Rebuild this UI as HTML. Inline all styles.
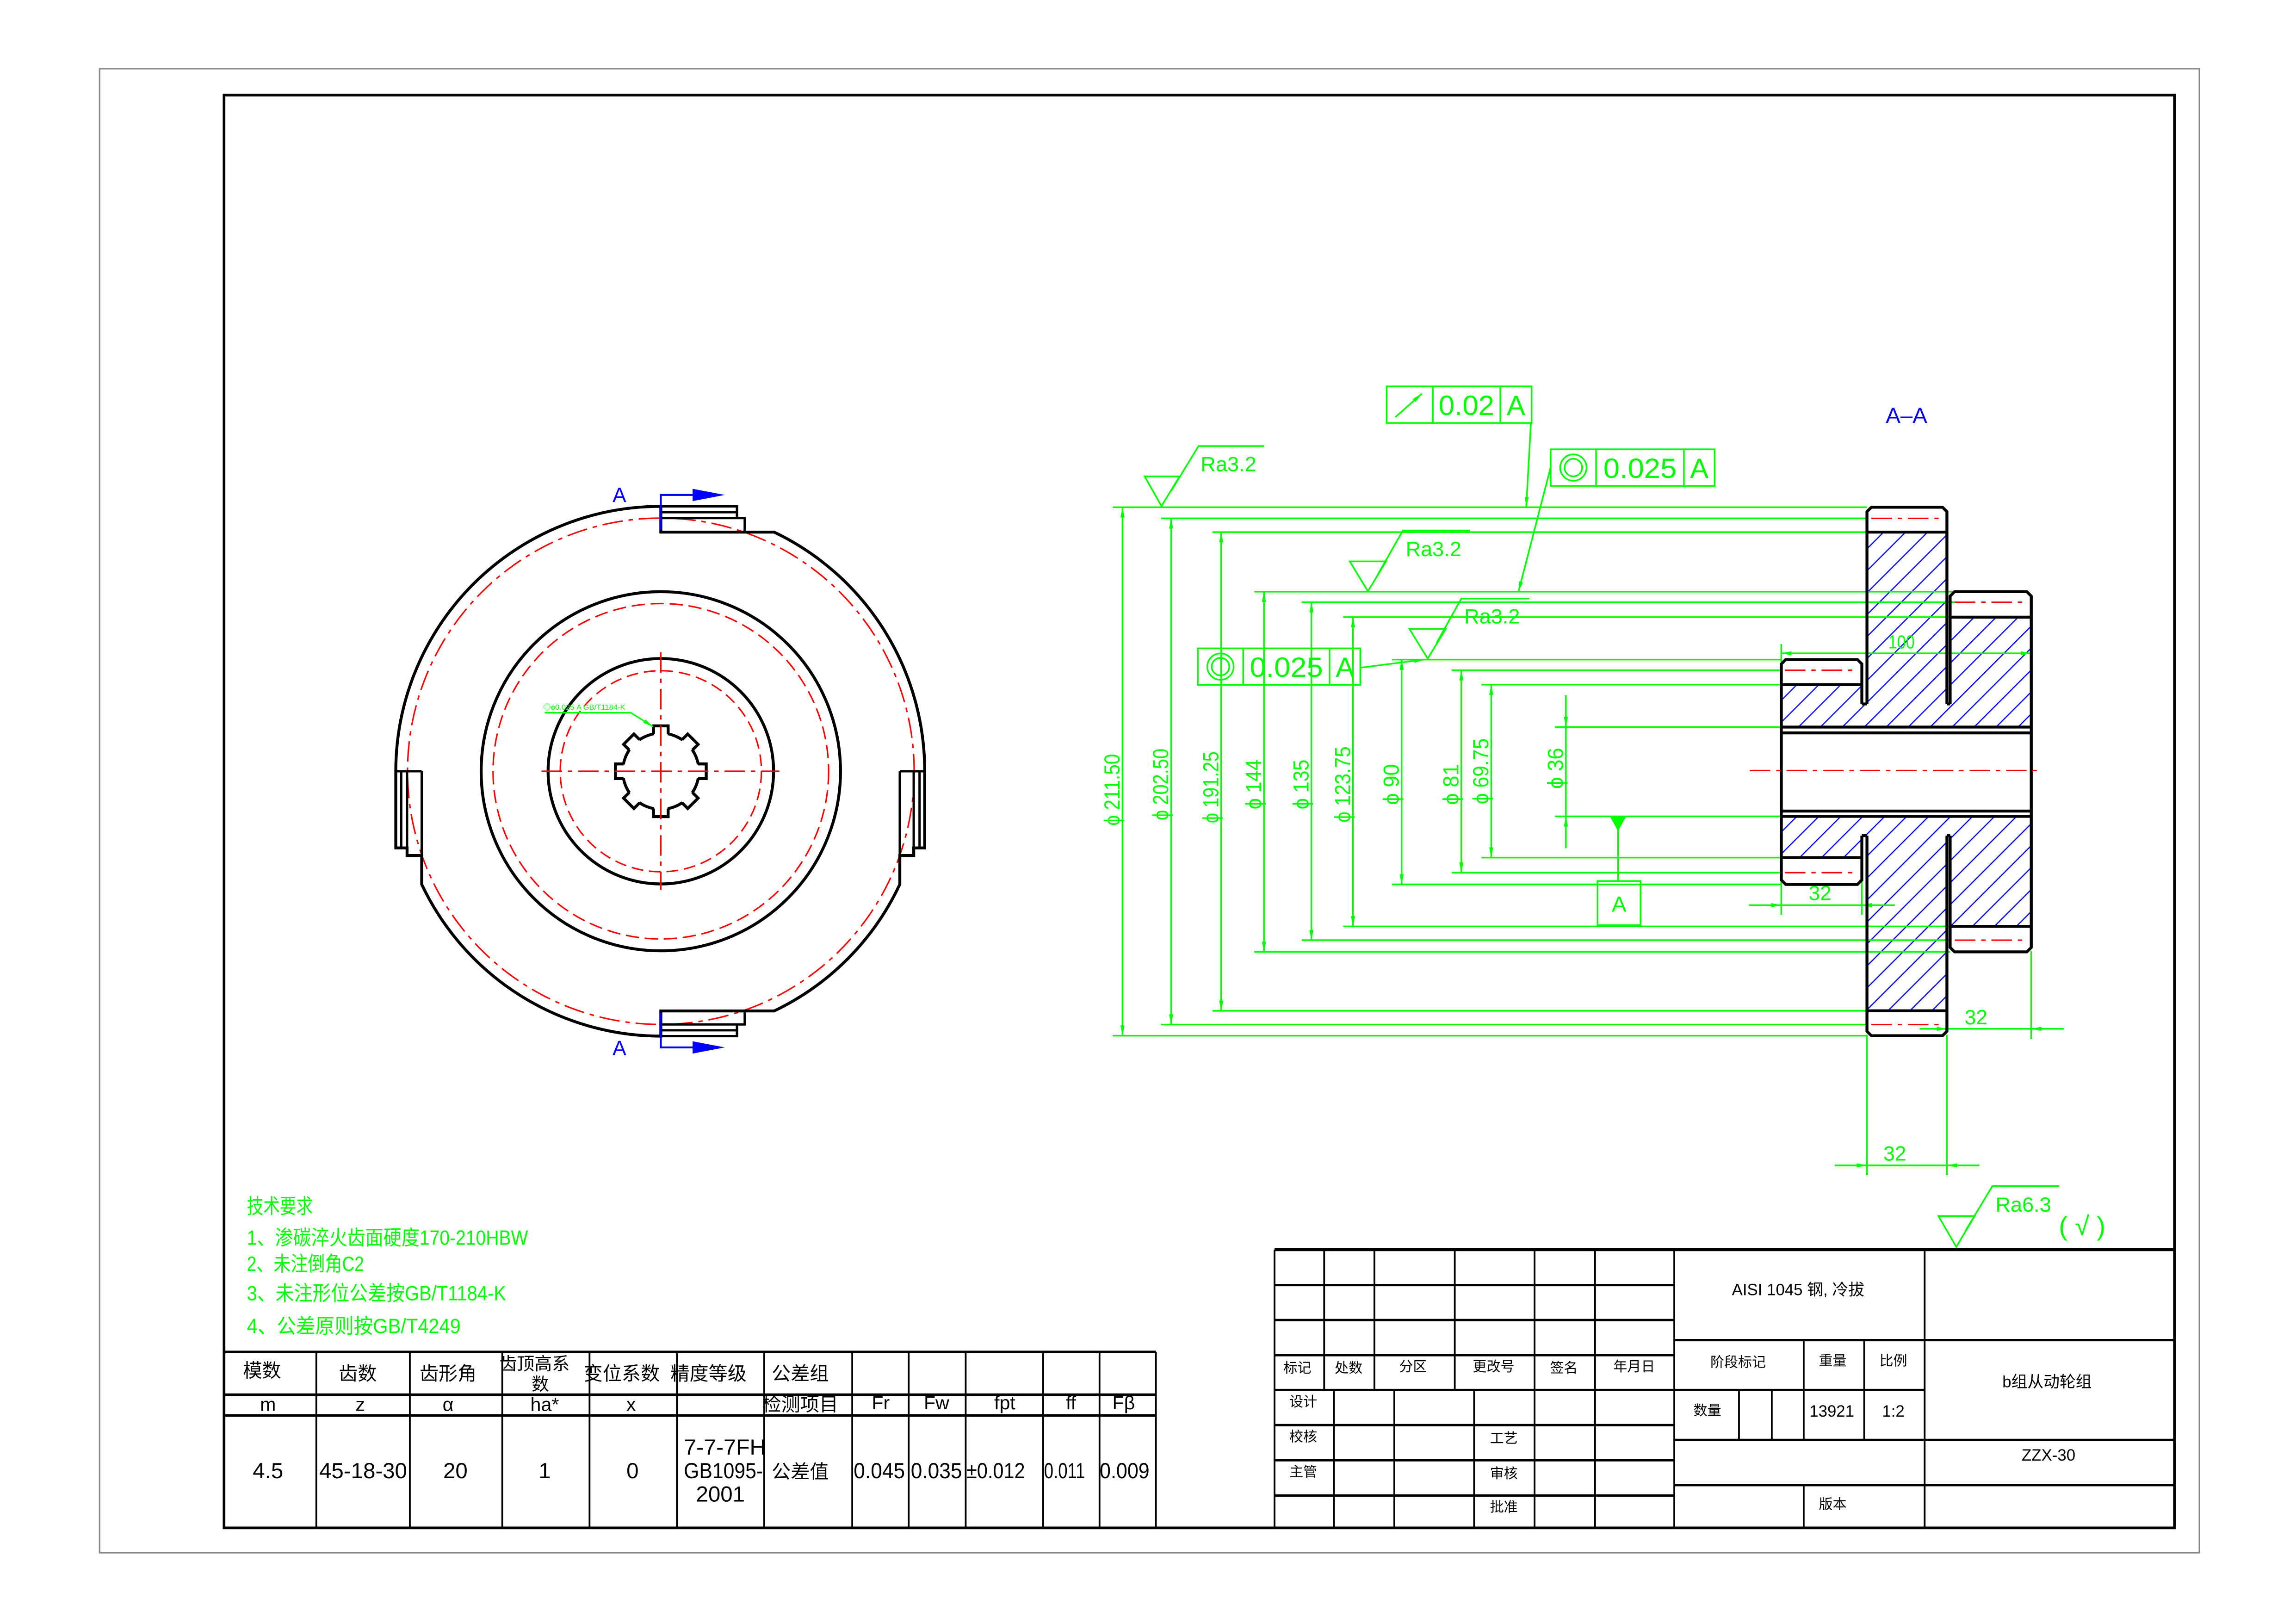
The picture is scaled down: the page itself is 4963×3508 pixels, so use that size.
<!DOCTYPE html>
<html><head><meta charset="utf-8"><style>
html,body{margin:0;padding:0;background:#fff;}
svg{display:block;}
text{font-family:"Liberation Sans","Noto Sans CJK SC",sans-serif;}
</style></head><body>
<svg xmlns="http://www.w3.org/2000/svg" width="4963" height="3508" viewBox="0 0 1568 1109" preserveAspectRatio="none">
<defs>
<marker id="a" viewBox="0 0 10 4" refX="10" refY="2" markerWidth="7" markerHeight="2.8" markerUnits="userSpaceOnUse" orient="auto-start-reverse" preserveAspectRatio="none"><path d="M0,0 L10,2 L0,4z" fill="#0f0"/></marker>
<pattern id="h" patternUnits="userSpaceOnUse" width="15" height="15"><path d="M0,15 L15,0 M-3,3 L3,-3 M12,18 L18,12" stroke="#00f" stroke-width="0.8"/></pattern>
<clipPath id="hc">
<rect x="1216.5" y="467.8" width="55" height="29"/><rect x="1271.5" y="481" width="3.5" height="15.8"/>
<rect x="1275" y="363.6" width="54.6" height="133.2"/><rect x="1329.6" y="481" width="2.2" height="15.8"/>
<rect x="1331.8" y="421.7" width="55.4" height="75.1"/>
<rect x="1216.5" y="557.8" width="55" height="28.2"/><rect x="1271.5" y="557.8" width="3.5" height="13.2"/>
<rect x="1275" y="557.8" width="54.6" height="132.9"/><rect x="1329.6" y="557.8" width="2.2" height="13.2"/>
<rect x="1331.8" y="557.8" width="55.4" height="75.2"/>
</clipPath>
</defs>
<rect width="1568" height="1109" fill="#fff"/>
<rect x="68" y="47" width="1434" height="1014" fill="none" stroke="#888" stroke-width="1"/>
<rect x="153" y="65" width="1332" height="979" fill="none" stroke="#000" stroke-width="1.8"/>

<g fill="none">
<circle cx="451.3" cy="527" r="173" stroke="#f00" stroke-width="1" stroke-dasharray="14 4 3 4"/>
<circle cx="451.3" cy="527" r="122.7" stroke="#000" stroke-width="2"/>
<circle cx="451.3" cy="527" r="114.6" stroke="#f00" stroke-width="1" stroke-dasharray="9 4"/>
<circle cx="451.3" cy="527" r="77" stroke="#000" stroke-width="2"/>
<circle cx="451.3" cy="527" r="68.7" stroke="#f00" stroke-width="1" stroke-dasharray="8 4"/>
<path d="M451.3,346 L451.3,363.6 L528.7,363.6 A181,181 0 0 1 631.5,527 L631.5,579.4 L624,579.4 L624,584.6 L614.5,584.6 L614.5,604.3 A181,181 0 0 1 528.7,690.8 L451.3,690.8 L451.3,708 A181,181 0 0 1 288,604.3 L288,584.6 L278,584.6 L278,579.4 L270.3,579.4 L270.3,527 A181,181 0 0 1 451.3,346 Z" stroke="#000" stroke-width="2"/>
<path d="M451.3,346 L503.3,346 L503.3,354 L451.3,354 M451.3,350 L503.3,350 M503.3,354 L508.6,354 L508.6,363.6" stroke="#000" stroke-width="1.6"/>
<path d="M451.3,708 L503.3,708 L503.3,700 L451.3,700 M451.3,704 L503.3,704 M503.3,700 L508.6,700 L508.6,690.8" stroke="#000" stroke-width="1.6"/>
<path d="M278,527 L278,579.4 M288,527 L288,584.6 M270.3,527 L288,527 M274,527 L274,579.4" stroke="#000" stroke-width="1.6"/>
<path d="M624,527 L624,579.4 M614.5,527 L614.5,584.6 M614.5,527 L631.5,527 M628,527 L628,579.4" stroke="#000" stroke-width="1.6"/>
<circle cx="451.3" cy="527" r="26" stroke="#000" stroke-width="2"/>
</g>
<g transform="translate(451.3,527)" stroke="#000" stroke-width="2">
<g><rect x="-4.6" y="-28" width="9.2" height="4" fill="#fff" stroke="none"/><path d="M-5,-25.5 L-5,-31 L5,-31 L5,-25.5" fill="none"/></g>
<g transform="rotate(45)"><rect x="-4.6" y="-28" width="9.2" height="4" fill="#fff" stroke="none"/><path d="M-5,-25.5 L-5,-31 L5,-31 L5,-25.5" fill="none"/></g>
<g transform="rotate(90)"><rect x="-4.6" y="-28" width="9.2" height="4" fill="#fff" stroke="none"/><path d="M-5,-25.5 L-5,-31 L5,-31 L5,-25.5" fill="none"/></g>
<g transform="rotate(135)"><rect x="-4.6" y="-28" width="9.2" height="4" fill="#fff" stroke="none"/><path d="M-5,-25.5 L-5,-31 L5,-31 L5,-25.5" fill="none"/></g>
<g transform="rotate(180)"><rect x="-4.6" y="-28" width="9.2" height="4" fill="#fff" stroke="none"/><path d="M-5,-25.5 L-5,-31 L5,-31 L5,-25.5" fill="none"/></g>
<g transform="rotate(225)"><rect x="-4.6" y="-28" width="9.2" height="4" fill="#fff" stroke="none"/><path d="M-5,-25.5 L-5,-31 L5,-31 L5,-25.5" fill="none"/></g>
<g transform="rotate(270)"><rect x="-4.6" y="-28" width="9.2" height="4" fill="#fff" stroke="none"/><path d="M-5,-25.5 L-5,-31 L5,-31 L5,-25.5" fill="none"/></g>
<g transform="rotate(315)"><rect x="-4.6" y="-28" width="9.2" height="4" fill="#fff" stroke="none"/><path d="M-5,-25.5 L-5,-31 L5,-31 L5,-25.5" fill="none"/></g>
</g>
<path d="M369.8,527 L532.3,527 M451.3,445.7 L451.3,608" stroke="#f00" stroke-width="1" stroke-dasharray="14 4 3 4" fill="none"/>
<path d="M372,487 L430.8,487 L446,496.5" stroke="#0f0" stroke-width="1" fill="none" marker-end="url(#a)"/>
<text x="371" y="485" font-size="5" fill="#0f0" textLength="56" lengthAdjust="spacingAndGlyphs">◎ϕ0.025 A GB/T1184-K</text>
<g stroke="#00f" stroke-width="1.3" fill="none"><path d="M451.3,361.8 L451.3,338.2 L476,338.2"/><path d="M451.3,692 L451.3,715.7 L476,715.7"/></g>
<path d="M473,334 L495,338.2 L473,342.4z M473,711.5 L495,715.7 L473,719.9z" fill="#00f"/>
<text x="423" y="343" font-size="14" fill="#00f" text-anchor="middle">A</text>
<text x="423" y="721" font-size="14" fill="#00f" text-anchor="middle">A</text>

<text x="1302" y="289" font-size="15" fill="#00f" text-anchor="middle">A–A</text>
<rect x="1200" y="350" width="200" height="360" fill="url(#h)" clip-path="url(#hc)"/>
<g stroke="#0f0" stroke-width="1.1" fill="none">
<path d="M760,346.6H1275 M793,354.2H1275 M828,363.6H1275 M856.6,404.3H1336 M889,411.5H1336 M917.3,421.7H1336 M950.6,450.7H1216.5 M991.4,458H1216.5 M1011.7,467.8H1216.5 M1062,496.8H1216.5 M1062,557.8H1216.5 M1011.7,586H1216.5 M991.4,596.3H1216.5 M950.6,604.3H1216.5 M917.3,633H1331.8 M889,642.4H1331.8 M856.6,650.4H1331.8 M828,690.7H1275 M793,700.1H1275 M760,707.7H1275"/>
<path d="M1216.5,440V625 M1271.5,594V625 M1387.2,650V710 M1275,707V803 M1329.6,707V803"/>
</g>
<g stroke="#0f0" stroke-width="1.1" fill="none" marker-start="url(#a)" marker-end="url(#a)">
<path d="M766.6,346.6V707.7"/><path d="M799.8,354.2V700.1"/><path d="M834,363.6V690.7"/><path d="M863.2,404.3V650.4"/><path d="M895.6,411.5V642.4"/><path d="M924,421.7V633"/><path d="M957.2,450.7V604.3"/><path d="M998,458V596.3"/><path d="M1018.4,467.8V586"/>
<path d="M1216.5,446.4H1387.2"/>
</g>
<g stroke="#0f0" stroke-width="1.1" fill="none" marker-end="url(#a)">
<path d="M1069.4,475V496.8"/><path d="M1069.4,579.6V557.8"/>
<path d="M1194.4,618.5H1216.5"/><path d="M1294,618.5H1271.5"/>
<path d="M1311,703H1329.6"/><path d="M1409.4,703H1387.2"/>
<path d="M1253,796.3H1275"/><path d="M1351.8,796.3H1329.6"/>
<path d="M1045.5,289L1042.3,346.6"/><path d="M1059,319.3L1037,404.3"/><path d="M929.3,456.2L972.7,450.7"/>
</g>
<path d="M1069.4,496.8V557.8 M1216.5,618.5H1271.5 M1329.6,703H1387.2 M1275,796.3H1329.6" stroke="#0f0" stroke-width="1.1"/>
<g fill="#0f0" font-size="15" text-anchor="middle">
<text transform="translate(764.6,539.7) rotate(-90)" textLength="49" lengthAdjust="spacingAndGlyphs">ϕ 211.50</text>
<text transform="translate(797.8,536) rotate(-90)" textLength="49" lengthAdjust="spacingAndGlyphs">ϕ 202.50</text>
<text transform="translate(832,538) rotate(-90)" textLength="49" lengthAdjust="spacingAndGlyphs">ϕ 191.25</text>
<text transform="translate(861.2,536) rotate(-90)" textLength="34" lengthAdjust="spacingAndGlyphs">ϕ 144</text>
<text transform="translate(893.6,536) rotate(-90)" textLength="34" lengthAdjust="spacingAndGlyphs">ϕ 135</text>
<text transform="translate(922,536) rotate(-90)" textLength="52" lengthAdjust="spacingAndGlyphs">ϕ 123.75</text>
<text transform="translate(955.2,536) rotate(-90)" textLength="28" lengthAdjust="spacingAndGlyphs">ϕ 90</text>
<text transform="translate(996,536) rotate(-90)" textLength="28" lengthAdjust="spacingAndGlyphs">ϕ 81</text>
<text transform="translate(1016.4,527) rotate(-90)" textLength="45" lengthAdjust="spacingAndGlyphs">ϕ 69.75</text>
<text transform="translate(1067.4,525) rotate(-90)" textLength="28" lengthAdjust="spacingAndGlyphs">ϕ 36</text>
<text x="1298.6" y="443" font-size="13" textLength="18" lengthAdjust="spacingAndGlyphs">100</text>
<text x="1243" y="615" font-size="14">32</text>
<text x="1349.5" y="700" font-size="14">32</text>
<text x="1294" y="793" font-size="14">32</text>
</g>
<g stroke="#000" stroke-width="2" fill="none">
<path d="M1275,481 V349.6 L1278,346.6 H1326.6 L1329.6,349.6 V481 M1275,571 V704.7 L1278,707.7 H1326.6 L1329.6,704.7 V571"/>
<path d="M1275,363.6H1329.6 M1275,690.7H1329.6"/>
<path d="M1331.8,481 V407.3 L1334.8,404.3 H1384.2 L1387.2,407.3 V647.4 L1384.2,650.4 H1334.8 L1331.8,647.4 V571"/>
<path d="M1331.8,421.7H1387.2 M1331.8,633H1387.2"/>
<path d="M1271.5,481 V453.7 L1268.5,450.7 H1219.5 L1216.5,453.7 V601.3 L1219.5,604.3 H1268.5 L1271.5,601.3 V571"/>
<path d="M1216.5,467.8H1271.5 M1216.5,586H1271.5"/>
<path d="M1271.5,481H1275 M1329.6,481H1331.8 M1271.5,571H1275 M1329.6,571H1331.8"/>
<path d="M1216.5,496.8H1387.2 M1216.5,500.8H1387.2 M1216.5,554.2H1387.2 M1216.5,557.8H1387.2"/>
</g>
<g stroke="#f00" stroke-width="1" stroke-dasharray="14 4 3 4">
<path d="M1278,354.2H1327 M1278,700.1H1327 M1335,411.5H1385 M1335,642.4H1385 M1219,458H1269 M1219,596.3H1269"/>
<path d="M1195,526.5H1395"/>
</g>
<g stroke="#0f0" stroke-width="1.1" fill="none">
<path d="M781.7,325.5H805.6L793.2,345.8Z M799.8,335.5L818.5,304.8H863.2"/>
<path d="M921.8,383.6H946.6L934.2,404Z M940.4,393.5L958.1,362.5H1003.8"/>
<path d="M962.5,429.7H987.4L975,450Z M981,439.5L998,409H1044.5"/>
<path d="M1323.8,830.9H1348.6L1336,852Z M1342.3,841L1360.7,810.4H1406.3"/>
</g>
<g fill="#0f0" font-size="14">
<text x="820" y="322" textLength="38" lengthAdjust="spacingAndGlyphs">Ra3.2</text>
<text x="960" y="380" textLength="38" lengthAdjust="spacingAndGlyphs">Ra3.2</text>
<text x="1000" y="426" textLength="38" lengthAdjust="spacingAndGlyphs">Ra3.2</text>
<text x="1362.8" y="828" textLength="38" lengthAdjust="spacingAndGlyphs">Ra6.3</text>
<text x="1406" y="844" font-size="18">( √ )</text>
</g>
<g stroke="#0f0" stroke-width="1.1" fill="none">
<rect x="947" y="264" width="99" height="25"/><path d="M978.5,264V289 M1024.6,264V289"/>
<path d="M953,285L971,269" marker-end="url(#a)"/>
<rect x="1059" y="307" width="112" height="25"/><path d="M1090,307V332 M1150,307V332"/>
<circle cx="1074.5" cy="319.5" r="9"/><circle cx="1074.5" cy="319.5" r="6"/>
<rect x="818" y="443" width="111" height="25"/><path d="M849,443V468 M908,443V468"/>
<circle cx="833.5" cy="455.5" r="9"/><circle cx="833.5" cy="455.5" r="6"/>
<rect x="1091" y="602" width="29.4" height="30.2"/><path d="M1105,567V602"/>
</g>
<path d="M1099.5,557.8H1110.5L1105,568Z" fill="#0f0"/>
<g fill="#0f0" font-size="19" text-anchor="middle">
<text x="1001.5" y="283.5" textLength="38" lengthAdjust="spacingAndGlyphs">0.02</text>
<text x="1035.3" y="283.5">A</text>
<text x="1120" y="326.5" textLength="50" lengthAdjust="spacingAndGlyphs">0.025</text>
<text x="1160.5" y="326.5">A</text>
<text x="878.5" y="462.5" textLength="50" lengthAdjust="spacingAndGlyphs">0.025</text>
<text x="918.5" y="462.5">A</text>
<text x="1105.7" y="623" font-size="15">A</text>
</g>

<g fill="#0f0" font-size="14">
<text x="168.6" y="829" textLength="45" lengthAdjust="spacingAndGlyphs">技术要求</text>
<text x="168.6" y="850.5" textLength="192" lengthAdjust="spacingAndGlyphs">1、渗碳淬火齿面硬度170-210HBW</text>
<text x="168.6" y="868.5" textLength="80" lengthAdjust="spacingAndGlyphs">2、未注倒角C2</text>
<text x="168.6" y="888.5" textLength="177" lengthAdjust="spacingAndGlyphs">3、未注形位公差按GB/T1184-K</text>
<text x="168.6" y="911" textLength="146" lengthAdjust="spacingAndGlyphs">4、公差原则按GB/T4249</text>
</g>

<g stroke="#000" fill="none">
<path d="M152.9,923.8H789.4 M152.9,953H789.4 M152.9,967.2H789.4" stroke-width="1.8"/>
<path d="M216,923.8V1044 M279.9,923.8V1044 M343,923.8V1044 M402.6,923.8V1044 M462.3,923.8V1044 M521.9,923.8V1044 M582,923.8V1044 M620.6,923.8V1044 M659.5,923.8V1044 M712.4,923.8V1044 M750.9,923.8V1044 M789.4,923.8V1044" stroke-width="1.2"/>
</g>
<g fill="#000" font-size="13" text-anchor="middle">
<text x="179" y="941">模数</text><text x="244.3" y="943">齿数</text><text x="306" y="943">齿形角</text>
<text x="365" y="936" font-size="12">齿顶高系</text><text x="369" y="950" font-size="12">数</text>
<text x="424.6" y="943">变位系数</text><text x="483.9" y="943">精度等级</text><text x="546.5" y="943">公差组</text>
<text x="183" y="964">m</text><text x="246" y="964">z</text><text x="306" y="964">α</text><text x="372" y="964">ha*</text><text x="431" y="964">x</text>
<text x="546.5" y="964">检测项目</text><text x="601.5" y="963">Fr</text><text x="639.6" y="963">Fw</text><text x="686.2" y="963">fpt</text><text x="731.4" y="963">ff</text><text x="767.4" y="963">Fβ</text>
<g font-size="15">
<text x="183" y="1010">4.5</text><text x="248" y="1010" textLength="60" lengthAdjust="spacingAndGlyphs">45-18-30</text><text x="311" y="1010">20</text><text x="372" y="1010">1</text><text x="432" y="1010">0</text>
<text x="495" y="994" textLength="56" lengthAdjust="spacingAndGlyphs">7-7-7FH</text><text x="494" y="1010" textLength="54" lengthAdjust="spacingAndGlyphs">GB1095-</text><text x="492" y="1026">2001</text>
<text x="546.5" y="1010" font-size="13">公差值</text>
<text x="600.5" y="1010" textLength="35" lengthAdjust="spacingAndGlyphs">0.045</text><text x="639.5" y="1010" textLength="35" lengthAdjust="spacingAndGlyphs">0.035</text>
<text x="680" y="1010" textLength="40" lengthAdjust="spacingAndGlyphs">±0.012</text><text x="727" y="1010" textLength="28" lengthAdjust="spacingAndGlyphs">0.011</text><text x="768" y="1010" textLength="34" lengthAdjust="spacingAndGlyphs">0.009</text>
</g>
</g>

<g stroke="#000" fill="none">
<path d="M870.4,853.9H1485" stroke-width="2"/>
<path d="M870.4,878.1H1143.4 M870.4,902H1143.4 M870.4,926H1143.4 M870.4,949.8H1143.4 M870.4,973.8H1143.4 M870.4,997.8H1143.4 M870.4,1021.9H1143.4 M1143.4,915.7H1485 M1143.4,949.8H1314.4 M1143.4,983.9H1485 M1143.4,1014.8H1485" stroke-width="1.6"/>
<path d="M870.4,853.9V1044 M904.3,853.9V949.8 M938.6,853.9V949.8 M993.5,853.9V949.8 M1048,853.9V1044 M1089.3,853.9V1044 M1143.4,853.9V1044 M911,949.8V1044 M952.2,949.8V1044 M1006.7,949.8V1044 M1314.4,853.9V1044 M1231.8,915.7V983.9 M1273.1,915.7V983.9 M1187.6,949.8V983.9 M1210,949.8V983.9 M1231.8,1014.8V1044" stroke-width="1.2"/>
</g>
<g fill="#000" font-size="9.5" text-anchor="middle">
<text x="886" y="938">标记</text><text x="921" y="938">处数</text><text x="965" y="937">分区</text><text x="1020" y="937">更改号</text><text x="1068" y="938">签名</text><text x="1116" y="937">年月日</text>
<text x="890" y="961">设计</text><text x="890" y="985">校核</text><text x="890" y="1009">主管</text>
<text x="1027" y="986">工艺</text><text x="1027" y="1010">审核</text><text x="1027" y="1033">批准</text>
<text x="1228" y="885" font-size="11">AISI 1045 钢, 冷拔</text>
<text x="1187" y="934">阶段标记</text><text x="1251.6" y="933">重量</text><text x="1293" y="933">比例</text>
<text x="1166" y="967">数量</text><text x="1251" y="968" font-size="11">13921</text><text x="1293" y="968" font-size="11">1:2</text>
<text x="1398" y="948" font-size="11">b组从动轮组</text>
<text x="1399" y="998" font-size="11">ZZX-30</text>
<text x="1251.6" y="1031">版本</text>
</g>
</svg>
</body></html>
